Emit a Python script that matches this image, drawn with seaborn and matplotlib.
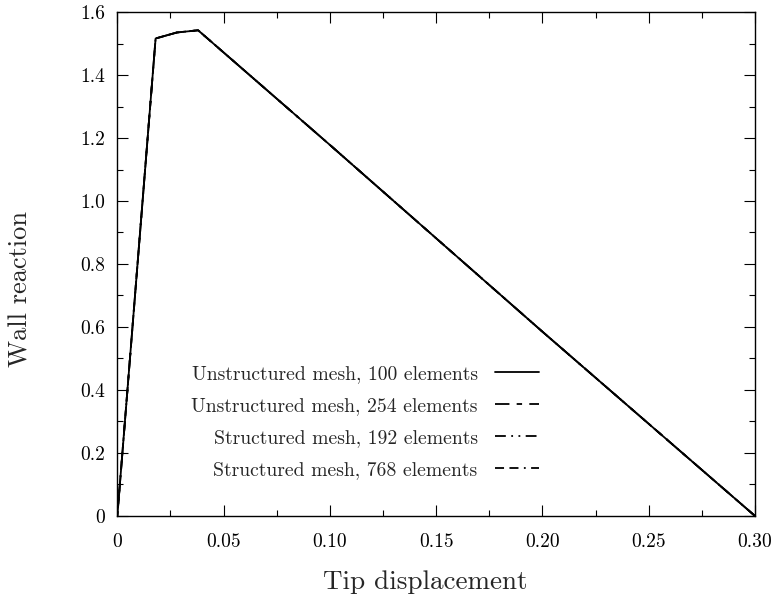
import matplotlib
matplotlib.use("Agg")
import matplotlib.pyplot as plt
import pandas as pd
import seaborn as sns
from matplotlib.ticker import MultipleLocator

sns.set_theme(style="ticks")
plt.rcParams['font.family'] = ['cmr10', 'DejaVu Serif']
plt.rcParams['axes.unicode_minus'] = False
plt.rcParams['axes.formatter.use_mathtext'] = True

# tip displacement / wall reaction for each mesh
disp = [0.0, 0.018, 0.028, 0.038, 0.10, 0.20, 0.30]
unstr_100 = [0.0, 1.516, 1.535, 1.542, 1.178, 0.585, 0.0]
unstr_254 = [0.0, 1.516, 1.535, 1.542, 1.178, 0.585, 0.0]
str_192 = [0.0, 1.516, 1.535, 1.542, 1.178, 0.585, 0.0]
str_768 = [0.0, 1.516, 1.535, 1.542, 1.178, 0.585, 0.0]

mesh_names = ["Unstructured mesh, 100 elements",
              "Unstructured mesh, 254 elements",
              "Structured mesh, 192 elements",
              "Structured mesh, 768 elements"]

x_ticks = [0, 0.05, 0.10, 0.15, 0.20, 0.25, 0.30]
x_labels = ["0", "0.05", "0.10", "0.15", "0.20", "0.25", "0.30"]
y_ticks = [0, 0.2, 0.4, 0.6, 0.8, 1.0, 1.2, 1.4, 1.6]
y_labels = ["0", "0.2", "0.4", "0.6", "0.8", "1.0", "1.2", "1.4", "1.6"]

frames = []
for name, vals in zip(mesh_names, [unstr_100, unstr_254, str_192, str_768]):
    frames.append(pd.DataFrame({"disp": disp, "reaction": vals, "mesh": name}))
df = pd.concat(frames, ignore_index=True)

fig = plt.figure(figsize=(7.72, 6.01), dpi=100)
ax = fig.add_axes([0.152, 0.1415, 0.826, 0.8385])

dashes = {mesh_names[0]: "",
          mesh_names[1]: (8, 4, 3, 4),
          mesh_names[2]: (6, 3, 1, 3, 1, 3),
          mesh_names[3]: (5, 3, 5, 3, 1, 3)}
sns.lineplot(data=df.iloc[::-1], x="disp", y="reaction", style="mesh",
             style_order=mesh_names, dashes=dashes, color="black",
             linewidth=1.3, ax=ax, sort=False)

ax.set_xlim(0, 0.30)
ax.set_ylim(0, 1.6)
ax.set_xticks(x_ticks)
ax.set_xticklabels(x_labels)
ax.set_yticks(y_ticks)
ax.set_yticklabels(y_labels)
ax.xaxis.set_minor_locator(MultipleLocator(0.025))
ax.yaxis.set_minor_locator(MultipleLocator(0.1))
ax.tick_params(which="both", direction="in", top=True, right=True,
               labelsize=14, colors="black")
ax.tick_params(axis="x", which="major", length=8, width=0.8, pad=12)
ax.tick_params(axis="y", which="major", length=8, width=0.8, pad=9)
ax.tick_params(which="minor", length=4, width=0.8)
for s in ax.spines.values():
    s.set_linewidth(1.0)
    s.set_color("black")

ax.set_xlabel("Tip displacement", fontsize=19.5)
ax.set_ylabel("Wall reaction", fontsize=19)
ax.xaxis.set_label_coords(0.483, -0.108)
ax.yaxis.set_label_coords(-0.133, 0.45)

handles, labels = ax.get_legend_handles_labels()
ax.legend(handles, labels, frameon=False, markerfirst=False, fontsize=14.2,
          handlelength=2.2, handletextpad=0.9, labelspacing=0.72,
          loc="upper left", bbox_to_anchor=(0.088, 0.335))

fig.savefig("out.png", dpi=100)
